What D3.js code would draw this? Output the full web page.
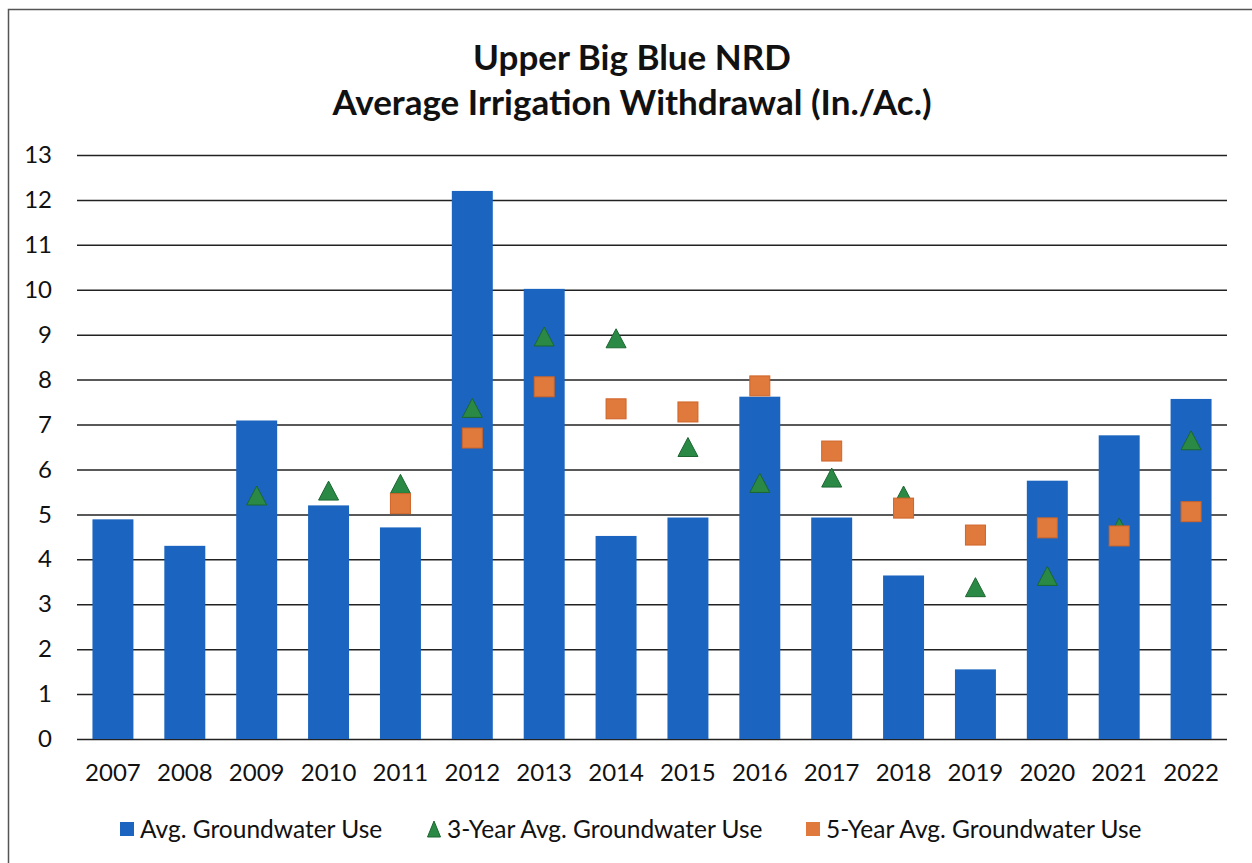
<!DOCTYPE html>
<html>
<head>
<meta charset="utf-8">
<script src="https://cdn.jsdelivr.net/npm/d3@7"></script>
<style>
  body { margin: 0; background: #fff; }
  svg { display: block; font-family: Lato, "Open Sans", sans-serif; }
</style>
</head>
<body>
<script>
// values (inches per acre)
let years = ['2007','2008','2009','2010','2011','2012','2013','2014','2015','2016','2017','2018','2019','2020','2021','2022']
let avgUse = [4.89, 4.30, 7.09, 5.20, 4.71, 12.20, 10.02, 4.52, 4.93, 7.62, 4.93, 3.64, 1.55, 5.75, 6.76, 7.57]
let avg3yr = [null, null, 5.42, 5.53, 5.68, 7.37, 8.96, 8.92, 6.50, 5.70, 5.82, 5.42, 3.38, 3.63, 4.71, 6.65]
let avg5yr = [null, null, null, null, 5.24, 6.70, 7.84, 7.35, 7.28, 7.86, 6.41, 5.14, 4.54, 4.70, 4.52, 5.06]
let yTicks = [0,1,2,3,4,5,6,7,8,9,10,11,12,13]
let titleLines = ['Upper Big Blue NRD', 'Average Irrigation Withdrawal (In./Ac.)']
let legendNames = ['Avg. Groundwater Use', '3-Year Avg. Groundwater Use', '5-Year Avg. Groundwater Use']

let width = 1252
let height = 863

let blue = '#1b64bf'
let green = '#2a8a45', greenEdge = '#1b6631'
let orange = '#e07a3c', orangeEdge = '#cf6428'

let margin = {top: 155, right: 25, bottom: 124, left: 77}

let x = d3.scaleBand()
    .domain(years)
    .range([margin.left, width - margin.right])
    .paddingInner(0.43)
    .paddingOuter(0.215)

let y = d3.scaleLinear()
    .domain([0, 13])
    .range([height - margin.bottom, margin.top])

const svg = d3.select('body').append('svg')
    .attr('width', width)
    .attr('height', height)

// frame of the scanned chart box
svg.append('rect')
    .attr('x', 8.5).attr('y', 9.5)
    .attr('width', width + 20).attr('height', height + 20)
    .attr('fill', 'none')
    .attr('stroke', '#555')
    .attr('stroke-width', 1.5)

// title
svg.append('g')
  .selectAll('text')
  .data(titleLines)
  .join('text')
    .attr('x', 632)
    .attr('y', (d, i) => 70 + i * 45)
    .attr('text-anchor', 'middle')
    .style('font-size', '35px')
    .style('font-weight', 'bold')
    .attr('fill', '#111')
    .text(d => d)

// gridlines + y labels
let yAxis = g => g
    .attr('transform', `translate(${margin.left},0)`)
    .call(d3.axisLeft(y).tickValues(yTicks).tickSize(-(width - margin.left - margin.right)).tickPadding(25))
    .call(g => g.select('.domain').remove())
    .call(g => g.selectAll('.tick line').attr('stroke', '#222').attr('stroke-width', 1.5))
    .call(g => g.selectAll('.tick text').attr('fill', '#111').style('font-size', '24px').style('font-family', 'Lato'))

svg.append('g').call(yAxis)

let xAxis = g => g
    .attr('transform', `translate(0,${y(0)})`)
    .call(d3.axisBottom(x).tickSize(0).tickPadding(19))
    .call(g => g.select('.domain').remove())
    .call(g => g.selectAll('.tick text').attr('fill', '#111').style('font-size', '24px').style('font-family', 'Lato').attr('dy', '0.95em'))

svg.append('g').call(xAxis)

// bars
svg.append('g')
  .selectAll('rect')
  .data(years)
  .join('rect')
    .attr('x', d => x(d))
    .attr('y', (d, i) => y(avgUse[i]))
    .attr('width', x.bandwidth())
    .attr('height', (d, i) => y(0) - y(avgUse[i]))
    .attr('fill', blue)

let tri = (w, h) => `M0,${-h/2}L${w/2},${h/2}L${-w/2},${h/2}Z`

// 3-year markers
svg.append('g')
  .selectAll('path')
  .data(years.map((d, i) => ({ year: d, v: avg3yr[i] })).filter(d => d.v != null))
  .join('path')
    .attr('d', tri(20, 19))
    .attr('transform', d => `translate(${x(d.year) + x.bandwidth() / 2},${y(d.v)})`)
    .attr('fill', green)
    .attr('stroke', greenEdge)
    .attr('stroke-width', 1)

// 5-year markers
svg.append('g')
  .selectAll('rect')
  .data(years.map((d, i) => ({ year: d, v: avg5yr[i] })).filter(d => d.v != null))
  .join('rect')
    .attr('x', d => x(d.year) + x.bandwidth() / 2 - 10)
    .attr('y', d => y(d.v) - 10)
    .attr('width', 20)
    .attr('height', 20)
    .attr('fill', orange)
    .attr('stroke', orangeEdge)
    .attr('stroke-width', 1)

// legend, item starts as in the original
let legendX = [120, 427, 806], ly = 829
let legend = svg.append('g')
legendNames.forEach((name, i) => {
  let g = legend.append('g').attr('transform', `translate(${legendX[i]},${ly})`)
  if (i === 0) {
    g.append('rect').attr('x', 0).attr('y', -7).attr('width', 14).attr('height', 14).attr('fill', blue)
  } else if (i === 1) {
    g.append('path').attr('d', tri(13, 16)).attr('transform', 'translate(7,0)').attr('fill', green).attr('stroke', greenEdge)
  } else {
    g.append('rect').attr('x', 0).attr('y', -7).attr('width', 14).attr('height', 14).attr('fill', orange)
  }
  g.append('text')
      .attr('x', 20)
      .attr('dy', '0.35em')
      .style('font-size', '24.5px')
      .attr('fill', '#111')
      .text(name)
})
</script>
</body>
</html>
